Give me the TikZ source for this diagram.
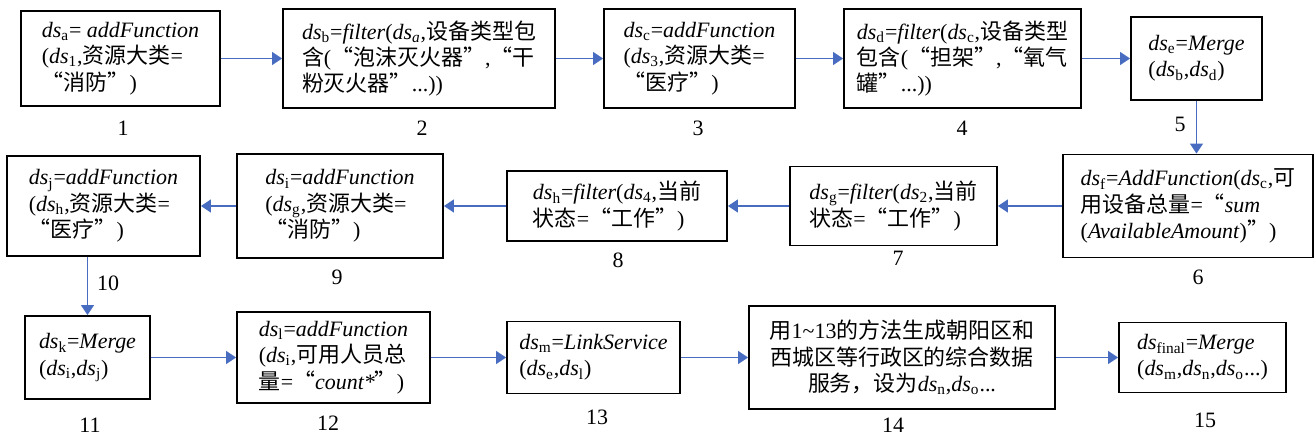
\documentclass[tikz,border=0pt]{standalone}
\usepackage{fontspec}
\setmainfont{Liberation Serif}
\newfontfamily\zhfont{Noto Sans CJK SC}
\usetikzlibrary{arrows.meta}
\definecolor{flowblue}{RGB}{72,108,192}
\newcommand{\zhtxt}[1]{{\zhfont #1}}
\newcommand{\dsub}[1]{\textit{ds}\textsubscript{#1}}
\tikzset{
    opbox/.style={draw,line width=1.1pt,align=left,inner sep=2pt,font=\fontsize{12.5}{15}\selectfont},
    stepnum/.style={inner sep=1pt,font=\fontsize{12.5}{14}\selectfont},
    flow/.style={draw=flowblue,line width=0.9pt,-{Triangle[length=0.2cm,width=0.26cm]}}
}
\begin{document}
\begin{tikzpicture}[x=0.02cm,y=-0.02cm]
        \useasboundingbox (0,0) rectangle (1316,439);

        \node[opbox,minimum width=3.98cm,minimum height=1.90cm] (b1) at (120.5,58.5) {\dsub{a}= \textit{addFunction}\\(\dsub{1},\zhtxt{资源大类}=\\\zhtxt{“消防”})};
        \node[opbox,minimum width=5.44cm,minimum height=1.98cm] (b2) at (419,58.5) {\dsub{b}=\textit{filter}(\dsub{\textit{a}},\zhtxt{设备类型包}\\\zhtxt{含}(\zhtxt{“泡沫灭火器”},\zhtxt{“干}\\\zhtxt{粉灭火器”}...))};
        \node[opbox,minimum width=3.82cm,minimum height=1.98cm] (b3) at (699.5,58.5) {\dsub{c}=\textit{addFunction}\\(\dsub{3},\zhtxt{资源大类}=\\\zhtxt{“医疗”})};
        \node[opbox,minimum width=4.74cm,minimum height=1.98cm] (b4) at (962.5,58.5) {\dsub{d}=\textit{filter}(\dsub{c},\zhtxt{设备类型}\\\zhtxt{包含}(\zhtxt{“担架”},\zhtxt{“氧气}\\\zhtxt{罐”}...))};
        \node[opbox,minimum width=2.62cm,minimum height=1.66cm] (b5) at (1196.5,58.5) {\dsub{e}=\textit{Merge}\\(\dsub{b},\dsub{d})};

        \node[opbox,minimum width=5.00cm,minimum height=2.06cm] (b6) at (1188,206) {\dsub{f}=\textit{AddFunction}(\dsub{c},\zhtxt{可}\\\zhtxt{用设备总量}=\zhtxt{“}\textit{sum}\\(\textit{AvailableAmount})\zhtxt{”})};
        \node[opbox,minimum width=4.14cm,minimum height=1.58cm] (b7) at (893.5,206) {\dsub{g}=\textit{filter}(\dsub{2},\zhtxt{当前}\\\zhtxt{状态}=\zhtxt{“工作”})};
        \node[opbox,minimum width=4.40cm,minimum height=1.40cm] (b8) at (617,206) {\dsub{h}=\textit{filter}(\dsub{4},\zhtxt{当前}\\\zhtxt{状态}=\zhtxt{“工作”})};
        \node[opbox,minimum width=4.12cm,minimum height=2.08cm] (b9) at (340,206) {\dsub{i}=\textit{addFunction}\\(\dsub{g},\zhtxt{资源大类}=\\\zhtxt{“消防”})};
        \node[opbox,minimum width=3.86cm,minimum height=2.00cm] (b10) at (103.5,206) {\dsub{j}=\textit{addFunction}\\(\dsub{h},\zhtxt{资源大类}=\\\zhtxt{“医疗”})};

        \node[opbox,minimum width=2.50cm,minimum height=1.66cm] (b11) at (87.5,357.5) {\dsub{k}=\textit{Merge}\\(\dsub{i},\dsub{j})};
        \node[opbox,minimum width=3.86cm,minimum height=1.82cm] (b12) at (333.5,357.5) {\dsub{l}=\textit{addFunction}\\(\dsub{i},\zhtxt{可用人员总}\\\zhtxt{量}=\zhtxt{“}\textit{count*}\zhtxt{”})};
        \node[opbox,minimum width=3.46cm,minimum height=1.44cm] (b13) at (593.5,357.5) {\dsub{m}=\textit{LinkService}\\(\dsub{e},\dsub{l})};
        \node[opbox,align=center,minimum width=6.12cm,minimum height=2.06cm] (b14) at (902,357.5) {\zhtxt{用}1\textasciitilde13\zhtxt{的方法生成朝阳区和}\\\zhtxt{西城区等行政区的综合数据}\\\zhtxt{服务，设为}\dsub{n},\dsub{o}...};
        \node[opbox,minimum width=3.34cm,minimum height=1.40cm] (b15) at (1202.5,357.5) {\dsub{final}=\textit{Merge}\\(\dsub{m},\dsub{n},\dsub{o}...)};

        \node[stepnum] (n1)  at (123,128)  {1};
        \node[stepnum] (n2)  at (422,128)  {2};
        \node[stepnum] (n3)  at (698,128)  {3};
        \node[stepnum] (n4)  at (962,128)  {4};
        \node[stepnum] (n5)  at (1180,124) {5};
        \node[stepnum] (n6)  at (1198,277) {6};
        \node[stepnum] (n7)  at (898,258)  {7};
        \node[stepnum] (n8)  at (618,260)  {8};
        \node[stepnum] (n9)  at (337,277)  {9};
        \node[stepnum] (n10) at (108,283)  {10};
        \node[stepnum] (n11) at (90,425)   {11};
        \node[stepnum] (n12) at (328,423)  {12};
        \node[stepnum] (n13) at (597,417)  {13};
        \node[stepnum] (n14) at (893,425)  {14};
        \node[stepnum] (n15) at (1205,420) {15};

        \draw [flow] (b1) -- (b2);
        \draw [flow] (b2) -- (b3);
        \draw [flow] (b3) -- (b4);
        \draw [flow] (b4) -- (b5);
        \draw [flow] (b5.south) -- (b5.south |- b6.north);
        \draw [flow] (b6) -- (b7);
        \draw [flow] (b7) -- (b8);
        \draw [flow] (b8) -- (b9);
        \draw [flow] (b9) -- (b10);
        \draw [flow] (b11.north |- b10.south) -- (b11.north);
        \draw [flow] (b11) -- (b12);
        \draw [flow] (b12) -- (b13);
        \draw [flow] (b13) -- (b14);
        \draw [flow] (b14) -- (b15);
    \end{tikzpicture}
\end{document}
